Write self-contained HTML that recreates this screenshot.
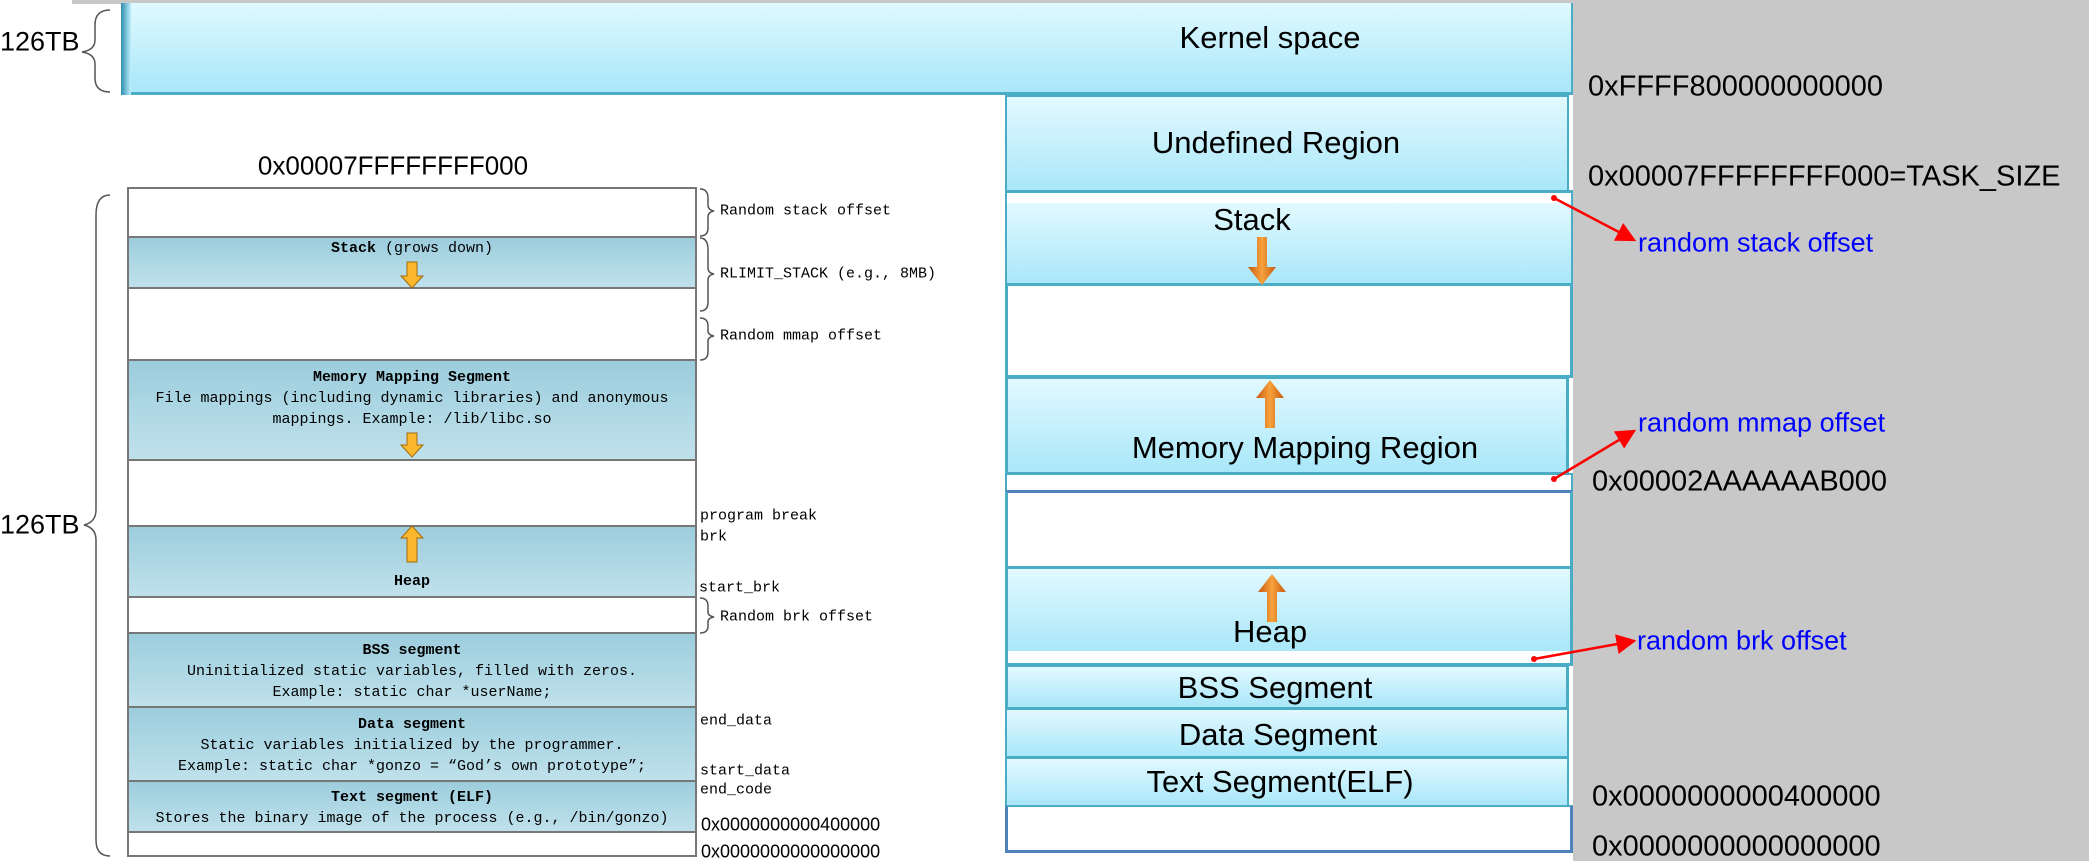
<!DOCTYPE html>
<html><head><meta charset="utf-8"><style>
body{margin:0;width:2089px;height:861px;position:relative;background:#fff;overflow:hidden;font-family:"Liberation Sans",sans-serif}
.a{position:absolute}
.rb{position:absolute;left:1005px;width:564px;background:linear-gradient(#e2f9ff,#a9e7f9);border:2px solid #4bacc6;box-sizing:border-box}
.wb{position:absolute;left:1005px;width:568px;background:#fff;box-sizing:border-box}
.lbl{position:absolute;font-size:31px;color:#000;white-space:nowrap;transform:translate(-50%,-50%)}
.hx{position:absolute;font-size:29px;white-space:nowrap;transform:translateY(-50%)}
.bl{position:absolute;font-size:27px;color:#0000ff;white-space:nowrap;transform:translateY(-50%)}
.lt{position:absolute;left:127px;width:570px;box-sizing:border-box;border:2px solid #777;font-family:"Liberation Mono",monospace;font-size:15px;text-align:center;line-height:21px}
.lt.c{background:linear-gradient(#9ccddd,#bfe1eb)}
.m{position:absolute;font-family:"Liberation Mono",monospace;font-size:15px;white-space:nowrap;transform:translateY(-50%)}
</style></head><body>
<div class="a" style="left:1573px;top:0;width:516px;height:861px;background:#c8c8c8"></div>
<div class="a" style="left:72px;top:0;width:1501px;height:4px;background:#c8c8c8"></div>
<!-- kernel -->
<div class="a" style="left:121px;top:3px;width:1452px;height:92px;background:linear-gradient(#e0f9ff,#a9e7f9);border-bottom:3px solid #4bacc6;border-right:2px solid #4bacc6;box-sizing:border-box"></div>
<div class="a" style="left:121px;top:3px;width:10px;height:92px;background:linear-gradient(90deg,#2d8fb0,#bfeffc)"></div>
<div class="lbl" style="left:1270px;top:38px">Kernel space</div>
<div class="hx" style="left:1588px;top:87px">0xFFFF800000000000</div>
<div class="rb" style="top:95px;height:97px"></div>
<div class="lbl" style="left:1276px;top:143px">Undefined Region</div>
<div class="hx" style="left:1588px;top:177px">0x00007FFFFFFFF000=TASK_SIZE</div>
<div class="wb" style="top:190px;height:96px;border:2px solid #4bacc6;border-top:3px solid #4bacc6"></div>
<div class="a" style="left:1007px;top:203px;width:564px;height:80px;background:linear-gradient(#e2f9ff,#a9e7f9)"></div>
<div class="lbl" style="left:1252px;top:220px">Stack</div>
<div class="wb" style="top:283px;height:95px;border:3px solid #4bacc6"></div>
<div class="rb" style="top:376px;height:99px;border-width:3px"></div>
<div class="lbl" style="left:1305px;top:448px">Memory Mapping Region</div>
<div class="wb" style="top:473px;height:20px;border:2px solid #4bacc6;border-bottom:3px solid #4f81bd"></div>
<div class="wb" style="top:490px;height:79px;border:3px solid #4bacc6;border-top:3px solid #4f81bd"></div>
<div class="hx" style="left:1592px;top:482px">0x00002AAAAAAB000</div>
<div class="wb" style="top:566px;height:100px;border:3px solid #4bacc6"></div>
<div class="a" style="left:1008px;top:569px;width:562px;height:82px;background:linear-gradient(#e2f9ff,#a9e7f9)"></div>
<div class="lbl" style="left:1270px;top:632px">Heap</div>
<div class="rb" style="top:664px;height:46px;border-width:3px"></div>
<div class="lbl" style="left:1275px;top:688px">BSS Segment</div>
<div class="rb" style="top:708px;height:50px"></div>
<div class="lbl" style="left:1278px;top:735px">Data Segment</div>
<div class="rb" style="top:757px;height:50px"></div>
<div class="lbl" style="left:1280px;top:782px">Text Segment(ELF)</div>
<div class="wb" style="top:805px;height:48px;border:3px solid #4f81bd;border-top:2px solid #4bacc6"></div>
<div class="hx" style="left:1592px;top:797px">0x0000000000400000</div>
<div class="hx" style="left:1592px;top:847px">0x0000000000000000</div>
<div class="bl" style="left:1638px;top:243px">random stack offset</div>
<div class="bl" style="left:1638px;top:423px">random mmap offset</div>
<div class="bl" style="left:1637px;top:641px">random brk offset</div>
<div class="a" style="left:0;top:42px;transform:translateY(-50%);font-size:27px">126TB</div>
<div class="a" style="left:0;top:525px;transform:translateY(-50%);font-size:27px">126TB</div>
<div class="a" style="left:393px;top:166px;transform:translate(-50%,-50%);font-size:26px">0x00007FFFFFFFF000</div>
<div class="lt" style="top:187px;height:51px"></div>
<div class="lt c" style="top:236px;height:53px"><b>Stack</b> (grows down)</div>
<div class="lt" style="top:287px;height:74px"></div>
<div class="lt c" style="top:359px;height:102px;padding-top:6px"><b>Memory Mapping Segment</b><br>File mappings (including dynamic libraries) and anonymous<br>mappings. Example: /lib/libc.so</div>
<div class="lt" style="top:459px;height:68px"></div>
<div class="lt c" style="top:525px;height:73px;padding-top:44px"><b>Heap</b></div>
<div class="lt" style="top:596px;height:38px"></div>
<div class="lt c" style="top:632px;height:76px;padding-top:6px"><b>BSS segment</b><br>Uninitialized static variables, filled with zeros.<br>Example: static char *userName;</div>
<div class="lt c" style="top:706px;height:76px;padding-top:6px"><b>Data segment</b><br>Static variables initialized by the programmer.<br>Example: static char *gonzo = “God’s own prototype”;</div>
<div class="lt c" style="top:780px;height:53px;padding-top:5px"><b>Text segment (ELF)</b><br>Stores the binary image of the process (e.g., /bin/gonzo)</div>
<div class="lt" style="top:831px;height:26px"></div>
<div class="m" style="left:720px;top:211px">Random stack offset</div>
<div class="m" style="left:720px;top:274px">RLIMIT_STACK (e.g., 8MB)</div>
<div class="m" style="left:720px;top:336px">Random mmap offset</div>
<div class="m" style="left:700px;top:516px">program break</div>
<div class="m" style="left:700px;top:537px">brk</div>
<div class="m" style="left:699px;top:588px">start_brk</div>
<div class="m" style="left:720px;top:617px">Random brk offset</div>
<div class="m" style="left:700px;top:721px">end_data</div>
<div class="m" style="left:700px;top:771px">start_data</div>
<div class="m" style="left:700px;top:790px">end_code</div>
<div class="m" style="left:701px;top:825px;font-size:18px;font-family:'Liberation Sans',sans-serif">0x0000000000400000</div>
<div class="m" style="left:701px;top:852px;font-size:18px;font-family:'Liberation Sans',sans-serif">0x0000000000000000</div>
<svg class="a" style="left:0;top:0;z-index:5" width="2089" height="861">
<defs>
<linearGradient id="og" x1="0" x2="1"><stop offset="0" stop-color="#c85a10"/><stop offset=".5" stop-color="#f7a23c"/><stop offset="1" stop-color="#c85a10"/></linearGradient>
<marker id="ar" markerWidth="8" markerHeight="8" refX="7" refY="4" orient="auto"><path d="M0,0L8,4L0,8z" fill="#f00"/></marker>
</defs>
<path d="M1257,237h10v30h9l-14,18l-14,-18h9z" fill="url(#og)"/>
<path d="M1265,428h10v-30h9l-14,-18l-14,18h9z" fill="url(#og)"/>
<path d="M1267,622h10v-30h9l-14,-18l-14,18h9z" fill="url(#og)"/>
<g stroke="#f00" stroke-width="2.5" fill="none" marker-end="url(#ar)">
<line x1="1554" y1="198" x2="1634" y2="240"/>
<line x1="1554" y1="479" x2="1634" y2="431"/>
<line x1="1534" y1="659" x2="1634" y2="641"/>
</g>
<circle cx="1554" cy="198" r="3" fill="#f00"/><circle cx="1554" cy="479" r="3" fill="#f00"/><circle cx="1534" cy="659" r="3" fill="#f00"/>
<g stroke="#555" stroke-width="1.5" fill="none">
<path d="M110,10 Q95,10 95,25 V40 Q95,50 82,52 Q95,54 95,64 V78 Q95,92 110,92"/>
<path d="M110,195 Q96,195 96,215 V510 Q96,522 84,525 Q96,528 96,540 V840 Q96,856 110,856"/>
<path d="M700,189 Q708,189 708,198 V205 Q708,210 714,211 Q708,212 708,217 V228 Q708,236 700,236"/>
<path d="M700,238 Q708,238 708,250 V268 Q708,273 714,274 Q708,275 708,280 V302 Q708,311 700,311"/>
<path d="M700,318 Q708,318 708,326 V331 Q708,335 714,336 Q708,337 708,341 V352 Q708,360 700,360"/>
<path d="M700,598 Q708,598 708,606 V612 Q708,616 714,617 Q708,618 708,622 V626 Q708,633 700,633"/>
</g>
<path d="M407,262h10v14h6l-11,12l-11,-12h6z" fill="#fbb82c" stroke="#a06a10"/>
<path d="M407,433h10v12h6l-11,12l-11,-12h6z" fill="#fbb82c" stroke="#a06a10"/>
<path d="M407,562h10v-24h6l-11,-12l-11,12h6z" fill="#fbb82c" stroke="#a06a10"/>
</svg>
</body></html>
